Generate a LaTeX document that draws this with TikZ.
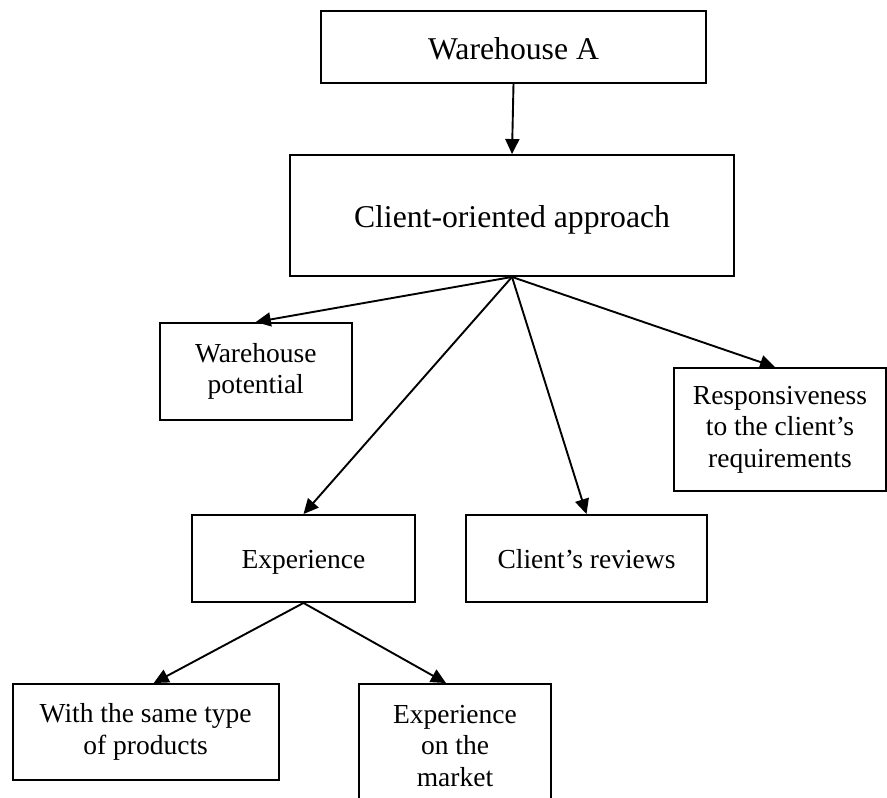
\documentclass[tikz,border=0pt]{standalone}
\usepackage{fontspec}
\setmainfont{Liberation Serif}
\usetikzlibrary{arrows.meta}

\tikzset{
  box/.style={draw, line width=1.9pt, rectangle, inner sep=0pt, align=center},
  bigtext/.style={font=\fontsize{31.7}{38}\selectfont},
  smalltext/.style={font=\fontsize{27.5}{31.5}\selectfont},
  % single-line labels sit a little below the middle of their box
  oneline/.style={text height=#1, text depth=2pt},
  link/.style={line width=1.9pt, -{Triangle[length=15pt,width=14pt]}}
}

\begin{document}
\begin{tikzpicture}[x=1pt, y=-1pt]
  \useasboundingbox (0,0) rectangle (887,798);
  \clip (0,0) rectangle (887,798);

  % top level
  \node[box, bigtext, oneline=26pt, minimum width=385pt, minimum height=72pt] (wa) at (513.5,47) {Warehouse A};
  \node[box, bigtext, oneline=26pt, minimum width=444pt, minimum height=121pt] (cl) at (512,215.5) {Client-oriented approach};

  % criteria
  \node[box, smalltext, minimum width=192pt, minimum height=97pt] (wp) at (255.75,371.5) {Warehouse\\potential};
  \node[box, smalltext, minimum width=212pt, minimum height=123pt] (resp) at (780,429.5) {Responsiveness\\to the client’s\\requirements};
  \node[box, smalltext, oneline=22pt, minimum width=223pt, minimum height=87pt] (exp) at (303.5,558.5) {Experience};
  \node[box, smalltext, oneline=22pt, minimum width=241pt, minimum height=87pt] (cr) at (586.5,558.5) {Client’s reviews};

  % kinds of experience
  \node[box, smalltext, minimum width=266pt, minimum height=96pt] (same) at (145.7,732) {With the same type\\of products};
  \node[box, smalltext, minimum width=192pt, minimum height=124pt] (mkt) at (455,746) {Experience\\on the\\market};

  % connectors
  \draw[link] (wa.south) -- (cl.north);
  \draw[link] (cl.south) -- (wp.north);
  \draw[link] (cl.south) -- (exp.north);
  \draw[link] (cl.south) -- (cr.north);
  \draw[link] (cl.south) -- ([xshift=-5pt]resp.north);
  \draw[link] (exp.south) -- ([xshift=8pt]same.north);
  \draw[link] (exp.south) -- ([xshift=-9pt]mkt.north);
\end{tikzpicture}
\end{document}
